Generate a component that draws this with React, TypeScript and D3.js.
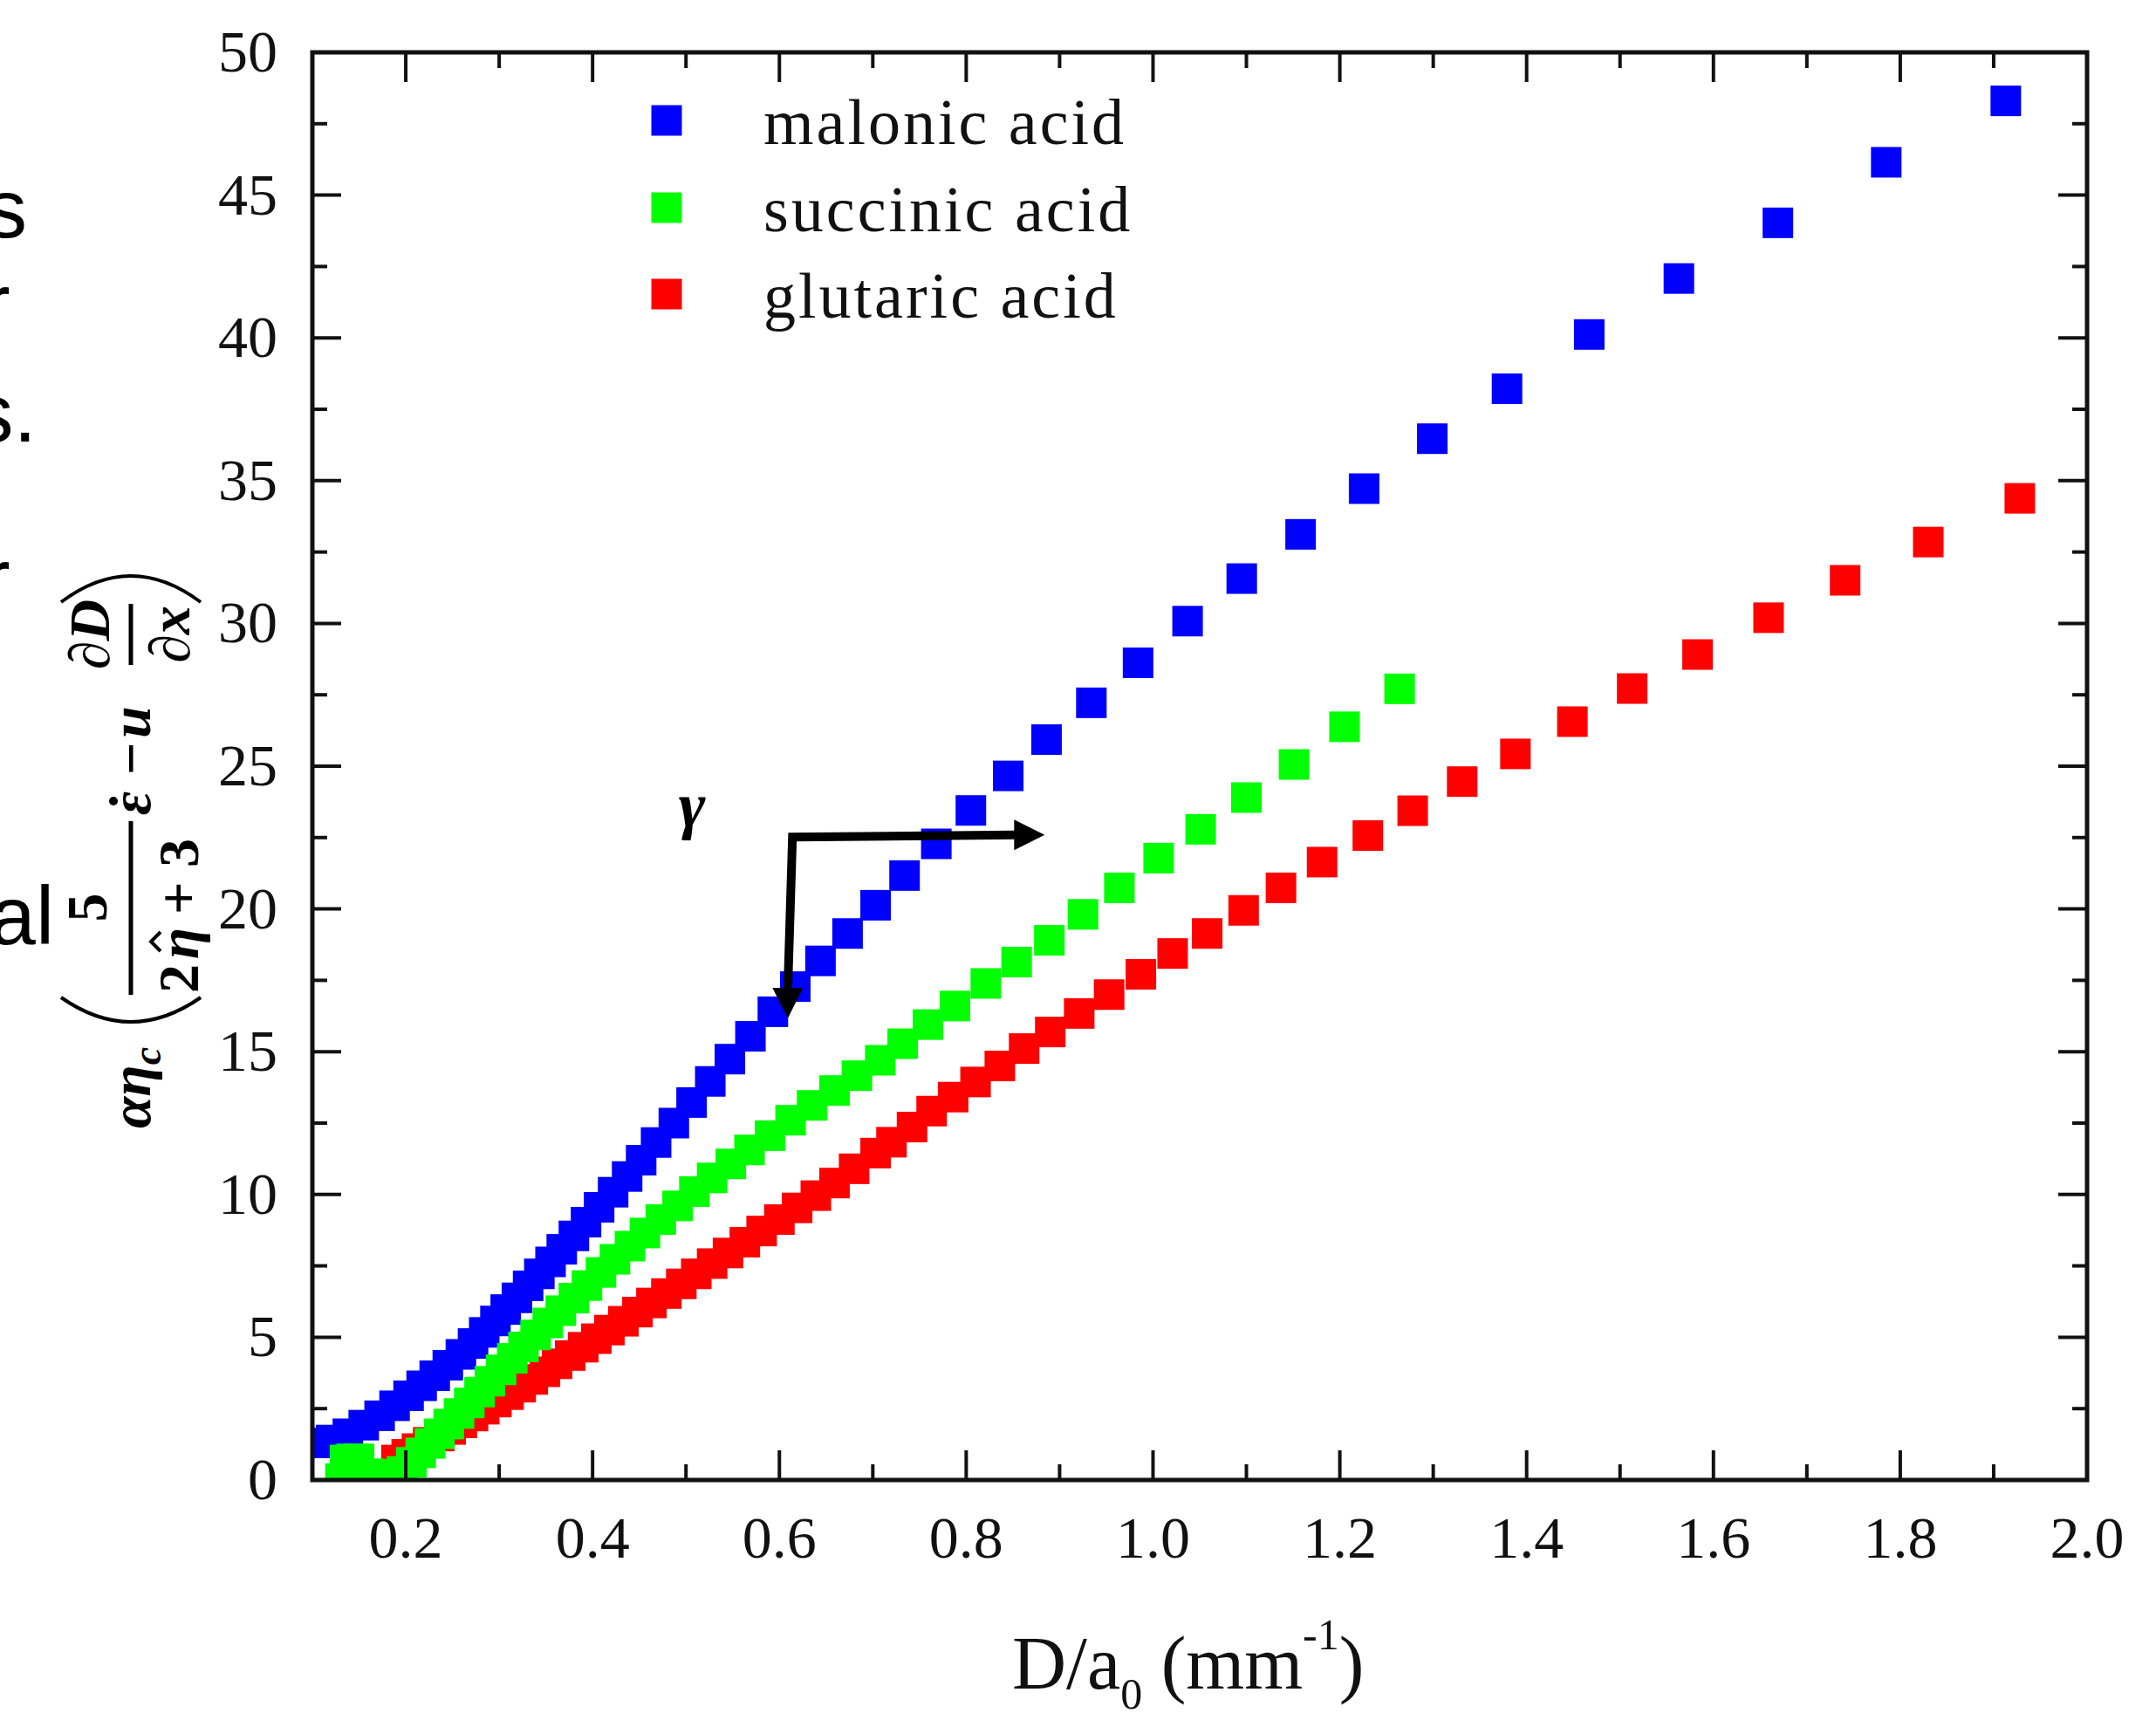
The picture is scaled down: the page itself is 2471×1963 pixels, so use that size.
import React, { Component } from "react";
import * as d3 from "d3";

// values: [D/a0, y]
const malonic = [
  [0.104, 1.30], [0.120, 1.40], [0.138, 1.62], [0.155, 1.92], [0.172, 2.25], [0.188, 2.60],
  [0.203, 2.95], [0.217, 3.30], [0.231, 3.65], [0.245, 4.02], [0.259, 4.40], [0.272, 4.78],
  [0.284, 5.17], [0.296, 5.57], [0.307, 5.97], [0.319, 6.38], [0.331, 6.80], [0.343, 7.22],
  [0.355, 7.64], [0.367, 8.08], [0.380, 8.55], [0.393, 9.03], [0.407, 9.55], [0.422, 10.08],
  [0.437, 10.63], [0.452, 11.20], [0.468, 11.82], [0.487, 12.50], [0.506, 13.22], [0.526, 13.96],
  [0.547, 14.74], [0.569, 15.54], [0.593, 16.40], [0.617, 17.28], [0.644, 18.18], [0.673, 19.14],
  [0.703, 20.13], [0.734, 21.17], [0.768, 22.28], [0.805, 23.45], [0.845, 24.66], [0.886, 25.93],
  [0.934, 27.22], [0.984, 28.62], [1.037, 30.08], [1.095, 31.57], [1.158, 33.12], [1.226, 34.72],
  [1.299, 36.47], [1.379, 38.22], [1.467, 40.12], [1.563, 42.08], [1.669, 44.03], [1.785, 46.15],
  [1.913, 48.30]
];

const succinic = [
  [0.130, 0.05], [0.140, 0.15], [0.150, 0.20], [0.160, 0.22], [0.170, 0.20], [0.180, 0.18],
  [0.188, 0.20], [0.135, 0.70], [0.142, 0.74], [0.150, 0.74],
  [0.196, 0.30], [0.206, 0.62], [0.216, 0.95], [0.226, 1.28], [0.236, 1.62], [0.246, 1.96],
  [0.257, 2.33], [0.268, 2.70], [0.279, 3.08], [0.290, 3.46], [0.302, 3.86], [0.314, 4.26],
  [0.326, 4.66], [0.339, 5.08], [0.352, 5.50], [0.366, 5.93], [0.380, 6.37], [0.394, 6.81],
  [0.409, 7.27], [0.424, 7.73], [0.440, 8.19], [0.456, 8.65], [0.473, 9.12], [0.491, 9.60],
  [0.509, 10.10], [0.528, 10.58], [0.548, 11.07], [0.568, 11.56], [0.590, 12.06], [0.612, 12.60],
  [0.635, 13.12], [0.659, 13.64], [0.683, 14.16], [0.708, 14.70], [0.732, 15.28], [0.759, 15.95],
  [0.788, 16.60], [0.821, 17.39], [0.854, 18.14], [0.889, 18.90], [0.925, 19.81], [0.964, 20.74],
  [1.006, 21.78], [1.051, 22.79], [1.100, 23.90], [1.151, 25.06], [1.205, 26.38], [1.264, 27.71]
];

const glutaric = [
  [0.190, 0.70], [0.201, 0.90], [0.212, 1.10], [0.224, 1.32], [0.236, 1.54], [0.248, 1.77],
  [0.260, 2.00], [0.272, 2.24], [0.284, 2.48], [0.297, 2.73], [0.310, 2.99], [0.323, 3.25],
  [0.336, 3.52], [0.349, 3.79], [0.362, 4.07], [0.376, 4.36], [0.390, 4.65], [0.404, 4.95],
  [0.418, 5.25], [0.433, 5.56], [0.448, 5.88], [0.463, 6.20], [0.479, 6.53], [0.495, 6.87],
  [0.511, 7.22], [0.528, 7.58], [0.545, 7.95], [0.563, 8.33], [0.581, 8.72], [0.600, 9.12],
  [0.619, 9.53], [0.639, 9.96], [0.659, 10.40], [0.680, 10.90], [0.703, 11.45], [0.720, 11.83],
  [0.742, 12.36], [0.763, 12.92], [0.786, 13.41], [0.810, 13.94], [0.836, 14.50], [0.862, 15.11],
  [0.890, 15.69], [0.921, 16.34], [0.953, 17.00], [0.987, 17.71], [1.021, 18.44], [1.058, 19.14],
  [1.097, 19.95], [1.137, 20.74], [1.181, 21.64], [1.230, 22.57], [1.278, 23.44], [1.331, 24.46],
  [1.388, 25.43], [1.449, 26.56], [1.513, 27.72], [1.583, 28.91], [1.659, 30.20], [1.741, 31.51],
  [1.830, 32.85], [1.928, 34.38]
];

const seriesNames = ["malonic acid", "succinic acid", "glutaric acid"];
const seriesColors = ["#0000ff", "#00ff00", "#ff0000"];
const xTicks = [0.2, 0.4, 0.6, 0.8, 1.0, 1.2, 1.4, 1.6, 1.8, 2.0];
const yTicks = [0, 5, 10, 15, 20, 25, 30, 35, 40, 45, 50];
// gamma arrow: corner, tip down, tip right (data units)
const arrowCorner = [0.614, 22.52];
const arrowDown = [0.609, 16.17];
const arrowRight = [0.884, 22.59];
const gammaPos = [0.492, 22.9];

class App extends Component {
  svgRef = React.createRef<SVGSVGElement>();

  componentDidMount() {
    this.drawChart();
  }
  componentDidUpdate() {
    this.drawChart();
  }

  drawChart() {
    const W = 2471, H = 1963;
    const margin = { top: 60, right: 79, bottom: 267, left: 358 };
    const serif = "'Liberation Serif', 'Times New Roman', serif";
    const sans = "'Liberation Sans', Arial, sans-serif";
    const ms = 35;
    const svg = d3.select(this.svgRef.current);
    svg.selectAll("*").remove();

    const x = d3.scaleLinear().domain([0.1, 2.0]).range([margin.left, W - margin.right]);
    const y = d3.scaleLinear().domain([0, 50]).range([H - margin.bottom, margin.top]);
    const x0 = x.range()[0], x1 = x.range()[1], y0 = y.range()[0], y1 = y.range()[1];

    svg.append("rect").attr("width", W).attr("height", H).attr("fill", "#fff");

    svg.append("defs").append("clipPath").attr("id", "plotclip")
      .append("rect").attr("x", x0).attr("y", y1).attr("width", x1 - x0).attr("height", y0 - y1);

    // fragments of the neighbouring slide text, cut by the left edge (as in the source image)
    const frag = svg.append("g").attr("font-family", sans).attr("font-size", 95).attr("fill", "#000");
    frag.append("text").attr("x", 31).attr("y", 272).attr("text-anchor", "end").text("s");
    frag.append("text").attr("x", -20).attr("y", 380).text("r");
    frag.append("text").attr("x", 42).attr("y", 506).attr("text-anchor", "end").text("s.");
    frag.append("text").attr("x", -20).attr("y", 695).text("r");
    frag.append("text").attr("x", 62).attr("y", 1082).attr("text-anchor", "end").text("al");

    // markers
    const plot = svg.append("g").attr("clip-path", "url(#plotclip)");
    const order = [0, 2, 1];
    const allData = [malonic, succinic, glutaric];
    order.forEach(i => {
      plot.append("g").selectAll("rect")
        .data(allData[i])
        .join("rect")
        .attr("x", d => x(d[0]) - ms / 2)
        .attr("y", d => y(d[1]) - ms / 2)
        .attr("width", ms)
        .attr("height", ms)
        .attr("fill", seriesColors[i]);
    });

    // frame + ticks on all four sides
    const axes = svg.append("g").attr("stroke", "#111");
    axes.append("rect").attr("x", x0).attr("y", y1).attr("width", x1 - x0).attr("height", y0 - y1)
      .attr("fill", "none").attr("stroke-width", 5);

    const xMinor = xTicks.map(v => +(v - 0.1).toFixed(1));
    const yMinor = yTicks.slice(1).map(v => v - 2.5);
    const tw = 4;
    [[xTicks, 34], [xMinor, 18]].forEach(([vals, len]: any) => {
      axes.append("g").selectAll("line").data(vals).join("line")
        .attr("x1", (d: any) => x(d)).attr("x2", (d: any) => x(d))
        .attr("y1", y0).attr("y2", y0 - len).attr("stroke-width", tw);
      axes.append("g").selectAll("line").data(vals).join("line")
        .attr("x1", (d: any) => x(d)).attr("x2", (d: any) => x(d))
        .attr("y1", y1).attr("y2", y1 + len).attr("stroke-width", tw);
    });
    [[yTicks, 33], [yMinor, 17]].forEach(([vals, len]: any) => {
      axes.append("g").selectAll("line").data(vals).join("line")
        .attr("y1", (d: any) => y(d)).attr("y2", (d: any) => y(d))
        .attr("x1", x0).attr("x2", x0 + len).attr("stroke-width", tw);
      axes.append("g").selectAll("line").data(vals).join("line")
        .attr("y1", (d: any) => y(d)).attr("y2", (d: any) => y(d))
        .attr("x1", x1).attr("x2", x1 - len).attr("stroke-width", tw);
    });

    // tick labels
    const fmt = d3.format(".1f");
    svg.append("g").attr("font-family", serif).attr("font-size", 68).attr("fill", "#111")
      .attr("text-anchor", "middle")
      .selectAll("text").data(xTicks).join("text")
      .attr("x", d => x(d)).attr("y", y0 + 89).text(d => fmt(d));
    svg.append("g").attr("font-family", serif).attr("font-size", 68).attr("fill", "#111")
      .attr("text-anchor", "end")
      .selectAll("text").data(yTicks).join("text")
      .attr("x", x0 - 40).attr("y", d => y(d) + 22).text(d => String(d));

    // x axis title
    const xt = svg.append("text").attr("font-family", serif).attr("font-size", 86).attr("fill", "#111")
      .attr("x", 1160).attr("y", 1935);
    xt.append("tspan").text("D/a");
    xt.append("tspan").attr("font-size", 50).attr("dy", 23).text("0");
    xt.append("tspan").attr("dy", -23).text(" (mm");
    xt.append("tspan").attr("font-size", 50).attr("dy", -45).text("-1");
    xt.append("tspan").attr("dy", 45).text(")");

    // y axis title (rotated math expression)
    const yt = svg.append("g").attr("transform", "translate(172,1000) rotate(-90)")
      .attr("font-family", serif).attr("font-weight", "bold").attr("fill", "#000").attr("font-size", 66);
    const an = yt.append("text").attr("x", -293).attr("y", 0).attr("font-style", "italic");
    an.append("tspan").text("αη");
    an.append("tspan").attr("font-size", 46).attr("dy", 12).text("c");
    yt.append("path").attr("d", "M-143,-102 Q-199,-22 -143,58").attr("fill", "none").attr("stroke", "#000").attr("stroke-width", 4);
    yt.append("text").attr("x", -40).attr("y", -50).attr("text-anchor", "middle").text("5");
    yt.append("line").attr("x1", -140).attr("x2", 59).attr("y1", -22).attr("y2", -22).attr("stroke", "#000").attr("stroke-width", 5);
    yt.append("text").attr("x", -138).attr("y", 55).text("2");
    yt.append("text").attr("x", -99).attr("y", 55).attr("font-style", "italic").text("η");
    yt.append("path").attr("d", "M-90,12 L-79,1 L-68,12").attr("fill", "none").attr("stroke", "#000").attr("stroke-width", 4);
    yt.append("text").attr("x", -48).attr("y", 55).text("+");
    yt.append("text").attr("x", 6).attr("y", 55).text("3");
    yt.append("text").attr("x", 66).attr("y", 0).attr("font-style", "italic").text("ε");
    yt.append("circle").attr("cx", 82).attr("cy", -42).attr("r", 5);
    yt.append("text").attr("x", 112).attr("y", 0).text("−");
    yt.append("text").attr("x", 154).attr("y", 0).attr("font-style", "italic").text("u");
    yt.append("text").attr("x", 273).attr("y", -47).attr("text-anchor", "middle").attr("font-style", "italic").text("∂D");
    yt.append("line").attr("x1", 238).attr("x2", 308).attr("y1", -22).attr("y2", -22).attr("stroke", "#000").attr("stroke-width", 5);
    yt.append("text").attr("x", 273).attr("y", 45).attr("text-anchor", "middle").attr("font-style", "italic").text("∂x");
    yt.append("path").attr("d", "M310,-102 Q370,-22 310,58").attr("fill", "none").attr("stroke", "#000").attr("stroke-width", 4);

    // legend
    const leg = svg.append("g");
    const legY = [138, 238, 337];
    seriesNames.forEach((name, i) => {
      leg.append("rect").attr("x", 764 - ms / 2).attr("y", legY[i] - ms / 2)
        .attr("width", ms).attr("height", ms).attr("fill", seriesColors[i]);
      leg.append("text").attr("x", 875).attr("y", legY[i] + 27)
        .attr("font-family", serif).attr("font-size", 74).attr("letter-spacing", 3)
        .attr("fill", "#111").text(name);
    });

    // gamma annotation with the two arrows
    svg.append("text").attr("x", x(gammaPos[0])).attr("y", y(gammaPos[1]))
      .attr("font-family", serif).attr("font-size", 74).attr("font-weight", "bold")
      .attr("font-style", "italic").text("γ");
    const cx = x(arrowCorner[0]), cy = y(arrowCorner[1]);
    const dx = x(arrowDown[0]), dy = y(arrowDown[1]);
    const rx = x(arrowRight[0]), ry = y(arrowRight[1]);
    const head = 35;
    svg.append("path")
      .attr("d", `M${dx},${dy - head + 2} L${cx},${cy} L${rx - head + 2},${ry}`)
      .attr("fill", "none").attr("stroke", "#000").attr("stroke-width", 10).attr("stroke-linejoin", "miter");
    svg.append("path")
      .attr("d", `M${dx},${dy} L${dx - head / 2},${dy - head} L${dx + head / 2},${dy - head} Z`)
      .attr("fill", "#000");
    svg.append("path")
      .attr("d", `M${rx},${ry} L${rx - head},${ry - head / 2} L${rx - head},${ry + head / 2} Z`)
      .attr("fill", "#000");
  }

  render() {
    return (
      <svg
        ref={this.svgRef}
        width={2471}
        height={1963}
        style={{ position: "absolute", left: 0, top: 0, display: "block" }}
      />
    );
  }
}

export default App;
